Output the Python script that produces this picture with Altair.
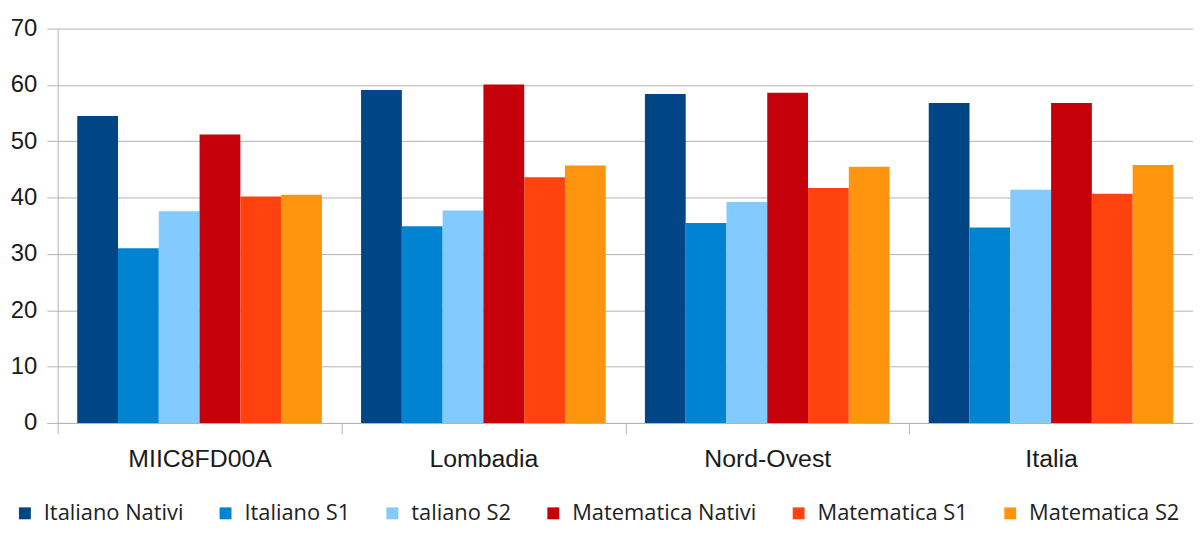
import altair as alt
import pandas as pd

categories = ["MIIC8FD00A", "Lombadia", "Nord-Ovest", "Italia"]
series = ["Italiano Nativi", "Italiano S1", "taliano S2",
          "Matematica Nativi", "Matematica S1", "Matematica S2"]
colors = ["#004586", "#0084d1", "#83caff", "#c5000b", "#ff420e", "#ff950e"]

italiano_nativi = [54.5, 59.1, 58.4, 56.8]
italiano_s1 = [31.0, 34.9, 35.5, 34.7]
italiano_s2 = [37.6, 37.7, 39.2, 41.4]
matematica_nativi = [51.2, 60.1, 58.6, 56.8]
matematica_s1 = [40.2, 43.6, 41.7, 40.7]
matematica_s2 = [40.5, 45.7, 45.5, 45.8]

values = [italiano_nativi, italiano_s1, italiano_s2,
          matematica_nativi, matematica_s1, matematica_s2]

rows = []
for s, vals in zip(series, values):
    for c, v in zip(categories, vals):
        rows.append({"group": c, "serie": s, "value": v})
df = pd.DataFrame(rows)

grey = "#b3b3b3"

chart = alt.Chart(df).mark_bar().encode(
    x=alt.X("group:N", sort=categories,
            scale=alt.Scale(paddingInner=0, paddingOuter=0),
            axis=alt.Axis(title=None, labelAngle=0, tickBand="extent",
                          tickSize=11, tickColor=grey, domainColor=grey,
                          labelFont="Liberation Sans", labelFontSize=25,
                          labelColor="#1a1a1a", labelPadding=13, grid=False)),
    xOffset=alt.XOffset("serie:N", sort=series,
                        scale=alt.Scale(paddingInner=0, paddingOuter=0.48)),
    y=alt.Y("value:Q", scale=alt.Scale(domain=[0, 70], nice=False),
            axis=alt.Axis(title=None, values=[0, 10, 20, 30, 40, 50, 60, 70],
                          tickSize=11, tickColor=grey, domainColor=grey,
                          gridColor=grey, labelFont="Liberation Sans",
                          labelFontSize=24, labelColor="#1a1a1a", labelPadding=10)),
    color=alt.Color("serie:N", sort=series,
                    scale=alt.Scale(domain=series, range=colors),
                    legend=alt.Legend(title=None, orient="none", direction="horizontal",
                                      legendX=-44, legendY=477, padding=0,
                                      symbolType="square", symbolSize=144,
                                      symbolStrokeWidth=0, labelFont="Open Sans",
                                      labelFontSize=22, labelColor="#222222",
                                      labelOffset=8, columnPadding=31,
                                      labelLimit=400)),
).properties(
    width=1143,
    height=397,
    autosize=alt.AutoSizeParams(type="none"),
    padding={"left": 50, "top": 19, "right": 0, "bottom": 102},
).configure_view(stroke=None)

chart.save("out.html", embed_options={"renderer": "svg", "actions": False})
